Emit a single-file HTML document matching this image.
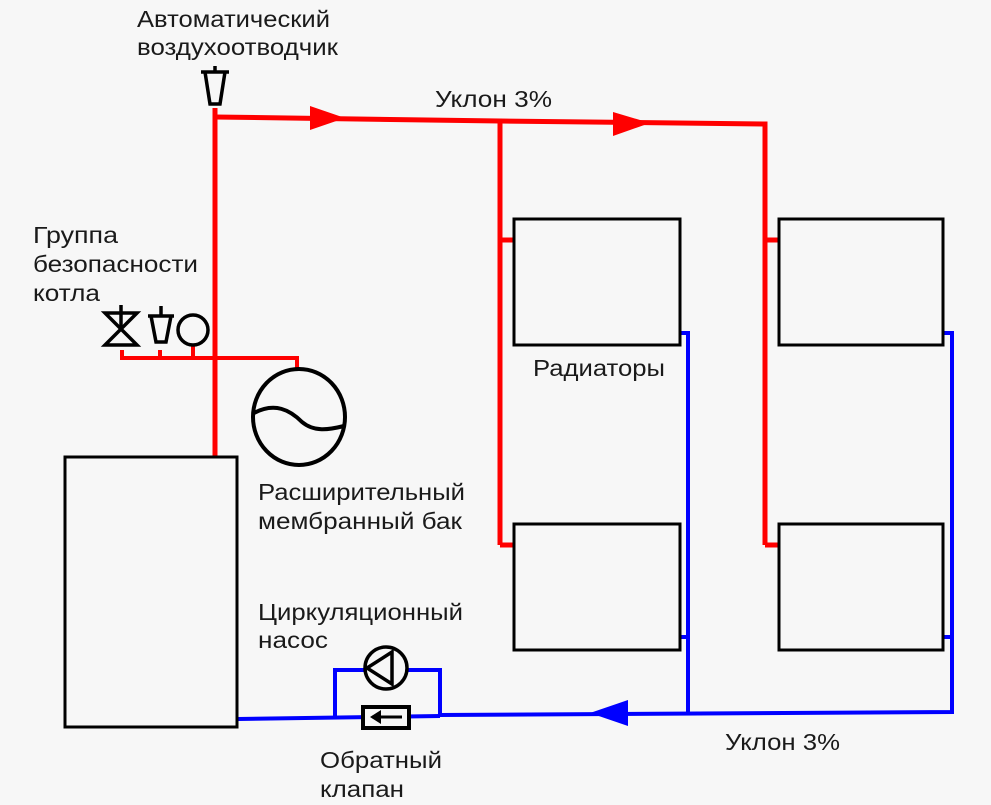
<!DOCTYPE html>
<html><head><meta charset="utf-8"><style>
html,body{margin:0;padding:0;background:#f7f7f7;}
svg{display:block}
text{font-family:"Liberation Sans",sans-serif;font-size:23px;fill:#1a1a1a;}
</style></head><body>
<svg width="991" height="805" viewBox="0 0 991 805" xmlns="http://www.w3.org/2000/svg">
<rect width="991" height="805" fill="#f7f7f7"/>
<!-- texts -->
<text x="137" y="27" textLength="193" lengthAdjust="spacingAndGlyphs">Автоматический</text>
<text x="137" y="55" textLength="201" lengthAdjust="spacingAndGlyphs">воздухоотводчик</text>
<text x="435" y="107" textLength="117" lengthAdjust="spacingAndGlyphs">Уклон 3%</text>
<text x="33" y="243" textLength="85" lengthAdjust="spacingAndGlyphs">Группа</text>
<text x="33" y="272" textLength="165" lengthAdjust="spacingAndGlyphs">безопасности</text>
<text x="33" y="301" textLength="67" lengthAdjust="spacingAndGlyphs">котла</text>
<text x="533" y="376" textLength="132" lengthAdjust="spacingAndGlyphs">Радиаторы</text>
<text x="118" y="506" textLength="67" lengthAdjust="spacingAndGlyphs">Котёл</text>
<text x="258" y="500" textLength="207" lengthAdjust="spacingAndGlyphs">Расширительный</text>
<text x="258" y="529" textLength="204" lengthAdjust="spacingAndGlyphs">мембранный бак</text>
<text x="258" y="620" textLength="205" lengthAdjust="spacingAndGlyphs">Циркуляционный</text>
<text x="258" y="648" textLength="70" lengthAdjust="spacingAndGlyphs">насос</text>
<text x="320" y="768" textLength="122" lengthAdjust="spacingAndGlyphs">Обратный</text>
<text x="320" y="797" textLength="84" lengthAdjust="spacingAndGlyphs">клапан</text>
<text x="725" y="750" textLength="115" lengthAdjust="spacingAndGlyphs">Уклон 3%</text>

<!-- red supply -->
<g stroke="#ff0000" stroke-width="5" fill="none">
<line x1="215" y1="108" x2="215" y2="458"/>
<polyline points="215,117 500,121 765,124 765,545"/>
<line x1="500" y1="121" x2="500" y2="545"/>
<line x1="500" y1="240" x2="514" y2="240"/>
<line x1="500" y1="545" x2="514" y2="545"/>
<line x1="765" y1="240" x2="779" y2="240"/>
<line x1="765" y1="545" x2="779" y2="545"/>
<polyline points="122,350 122,358 297,358 297,372" stroke-width="4"/>
<line x1="160" y1="350" x2="160" y2="358" stroke-width="4"/>
<line x1="193" y1="346" x2="193" y2="358" stroke-width="4"/>
</g>
<polygon points="310,106 345,118 310,130" fill="#ff0000"/>
<polygon points="613,112 650,123 613,136" fill="#ff0000"/>

<!-- blue return -->
<g stroke="#0000ff" stroke-width="4" fill="none">
<polyline points="943,333 952,333 952,712 440,715"/>
<polyline points="680,333 688,333 688,713"/>
<polyline points="680,637 688,637"/>
<polyline points="943,637 952,637"/>
<line x1="440" y1="716" x2="238" y2="719"/>
<polyline points="335,716 335,670 440,670 440,716"/>
</g>
<polygon points="628,700 590,713 628,726" fill="#0000ff"/>

<!-- radiators -->
<g stroke="#000" stroke-width="3" fill="#f7f7f7">
<rect x="514" y="219" width="166" height="126"/>
<rect x="514" y="524" width="166" height="126"/>
<rect x="779" y="219" width="164" height="126"/>
<rect x="779" y="524" width="164" height="126"/>
<rect x="65" y="457" width="172" height="270"/>
</g>

<!-- pump -->
<circle cx="386" cy="668" r="21" fill="#f7f7f7" stroke="#000" stroke-width="3.5"/>
<polygon points="367,668 392,652 392,684" fill="none" stroke="#000" stroke-width="3.5"/>
<!-- check valve -->
<rect x="363" y="707" width="46" height="21" fill="#f7f7f7" stroke="#000" stroke-width="4"/>
<line x1="372" y1="717" x2="402" y2="717" stroke="#000" stroke-width="3"/>
<polygon points="370,717 381,710 381,724" fill="#000"/>

<!-- expansion tank -->
<ellipse cx="299" cy="417" rx="46" ry="48" fill="#f7f7f7" stroke="#000" stroke-width="4"/>
<path d="M254,413 C275,402 290,410 302,422 C314,432 328,430 344,426" fill="none" stroke="#000" stroke-width="4"/>

<!-- air vent top -->
<g stroke="#000" stroke-width="3.5" fill="none">
<line x1="201" y1="72" x2="229" y2="72"/>
<line x1="215" y1="66" x2="215" y2="72"/>
<path d="M205,72 L210,104 L220,104 L225,72"/>
</g>
<!-- safety group -->
<g stroke="#000" stroke-width="3.5" fill="none">
<polygon points="105,313 137,313 105,345 137,345"/>
<line x1="121" y1="305" x2="121" y2="329"/>
<line x1="148" y1="316" x2="174" y2="316"/>
<line x1="161" y1="306" x2="161" y2="316"/>
<path d="M151,316 L156,342 L166,342 L171,316"/>
<circle cx="193" cy="330" r="15"/>
</g>
</svg>
</body></html>
